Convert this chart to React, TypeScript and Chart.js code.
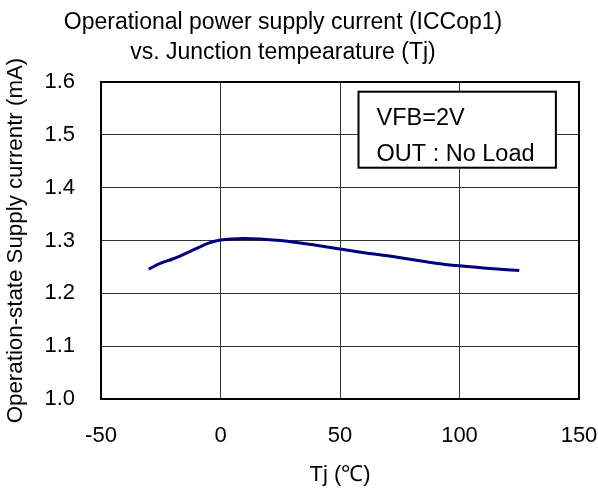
import React, { useEffect, useRef } from "react";
import { Chart, registerables } from "chart.js";

Chart.register(...registerables);

const titleLines = ["Operational power supply current (ICCop1)", "vs. Junction tempearature (Tj)"];
const xAxisTitle = "Tj (℃)";
const yAxisTitle = "Operation-state Supply currentr (mA)";
const noteLines = ["VFB=2V", "OUT : No Load"];

const tjValues = [-30, -25, -20, -10, -5, 0, 10, 25, 40, 50, 60, 70, 80, 90, 100, 110, 125];
const iccValues = [1.246, 1.257, 1.265, 1.285, 1.295, 1.301, 1.304, 1.300, 1.291, 1.284, 1.277, 1.271, 1.264, 1.257, 1.252, 1.248, 1.243];

const xMin = -50;
const xMax = 150;
const xStep = 50;
const yMin = 1.0;
const yMax = 1.6;
const yStep = 0.1;

const FONT = "'Liberation Sans', Arial, sans-serif";

const decorPlugin = {
  id: "decor",
  afterDraw(chart: any) {
    const { ctx, chartArea } = chart;
    ctx.save();
    // frame
    ctx.strokeStyle = "#000";
    ctx.lineWidth = 2;
    ctx.strokeRect(chartArea.left, chartArea.top, chartArea.right - chartArea.left, chartArea.bottom - chartArea.top);
    // title
    ctx.fillStyle = "#000";
    ctx.font = `23px ${FONT}`;
    ctx.textAlign = "center";
    ctx.textBaseline = "alphabetic";
    ctx.fillText(titleLines[0], 283, 28.5);
    ctx.fillText(titleLines[1], 283, 58.5);
    // note box
    const bx = chartArea.left + 257.5;
    const by = chartArea.top + 9.7;
    const bw = 197.4;
    const bh = 76;
    ctx.fillStyle = "#fff";
    ctx.fillRect(bx, by, bw, bh);
    ctx.strokeStyle = "#000";
    ctx.lineWidth = 2;
    ctx.strokeRect(bx, by, bw, bh);
    ctx.fillStyle = "#000";
    ctx.font = `23.5px ${FONT}`;
    ctx.textAlign = "left";
    ctx.textBaseline = "alphabetic";
    ctx.fillText(noteLines[0], bx + 18, by + 33.5);
    ctx.fillText(noteLines[1], bx + 18, by + 69);
    ctx.restore();
  },
};

export default function App() {
  const ref = useRef<HTMLCanvasElement | null>(null);
  useEffect(() => {
    if (!ref.current) return;
    const chart = new Chart(ref.current, {
      type: "line",
      data: {
        datasets: [
          {
            data: tjValues.map((x, i) => ({ x, y: iccValues[i] })),
            borderColor: "#000080",
            backgroundColor: "#000080",
            borderWidth: 3,
            pointRadius: 0,
            tension: 0.4,
            cubicInterpolationMode: "monotone",
            fill: false,
          },
        ],
      },
      options: {
        responsive: false,
        animation: false,
        layout: { padding: { top: 82, left: 0, right: 19, bottom: 0 } },
        plugins: { legend: { display: false }, tooltip: { enabled: false }, title: { display: false } },
        font: { family: FONT },
        scales: {
          x: {
            type: "linear",
            min: xMin,
            max: xMax,
            ticks: { stepSize: xStep, padding: 24, color: "#000", font: { family: FONT, size: 22 }, maxRotation: 0 },
            grid: { color: "#333", lineWidth: 1, drawTicks: false },
            border: { display: false },
            title: { display: true, text: xAxisTitle, color: "#000", font: { family: FONT, size: 22 }, padding: { top: 6, bottom: 0 } },
            afterFit(scale: any) {
              scale.height = 89;
              scale.paddingLeft = 0;
              scale.paddingRight = 0;
            },
          },
          y: {
            type: "linear",
            min: yMin,
            max: yMax,
            ticks: {
              stepSize: yStep,
              padding: 26,
              color: "#000",
              font: { family: FONT, size: 22 },
              callback: (v: any) => Number(v).toFixed(1),
            },
            grid: { color: "#333", lineWidth: 1, drawTicks: false },
            border: { display: false },
            title: { display: true, text: yAxisTitle, color: "#000", font: { family: FONT, size: 22.3 }, padding: { top: 2, bottom: 0 } },
            afterFit(scale: any) {
              scale.width = 101;
              scale.paddingTop = 0;
              scale.paddingBottom = 0;
            },
          },
        },
      },
      plugins: [decorPlugin],
    } as any);
    return () => chart.destroy();
  }, []);
  return (
    <div style={{ position: "absolute", left: 0, top: 0, width: 598, height: 488, background: "#fff" }}>
      <canvas ref={ref} width={598} height={488} style={{ display: "block" }} />
    </div>
  );
}
